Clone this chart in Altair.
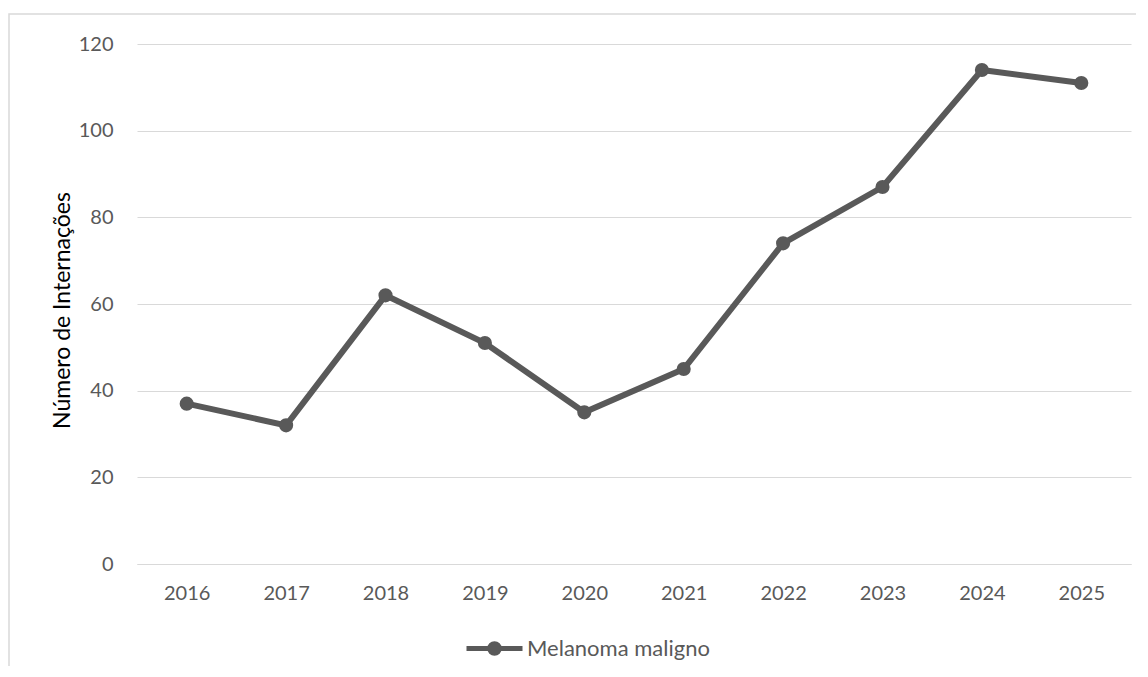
import altair as alt
import pandas as pd

years = ["2016", "2017", "2018", "2019", "2020", "2021", "2022", "2023", "2024", "2025"]
values = [37, 32, 62, 51, 35, 45, 74, 87, 114, 111]
series = ["Melanoma maligno"] * len(years)
y_ticks = [0, 20, 40, 60, 80, 100, 120]

df = pd.DataFrame({"ano": years, "valor": values, "serie": series})

FONT = "Lato"
GREY = "#595959"
GRID = "#d9d9d9"

frame = alt.Chart(pd.DataFrame({"k": [0]})).mark_rect(
    filled=False, stroke=GRID, strokeWidth=1.5, fillOpacity=0
).encode(
    x=alt.value(-128), x2=alt.value(1400), y=alt.value(-30), y2=alt.value(900)
)

legend_path = "M-1,0H1M-0.17,0A0.17,0.17,0,1,1,0.17,0A0.17,0.17,0,1,1,-0.17,0Z"

line = alt.Chart(df).mark_line(
    strokeWidth=6,
    point=alt.OverlayMarkDef(filled=True, size=200),
).encode(
    x=alt.X(
        "ano:O",
        sort=years,
        scale=alt.Scale(type="point", padding=0.5),
        axis=alt.Axis(
            title=None, labelAngle=0, grid=False, ticks=False, domain=True,
            domainColor=GRID, domainWidth=1, labelPadding=19,
            labelFont=FONT, labelFontSize=20, labelColor=GREY,
        ),
    ),
    y=alt.Y(
        "valor:Q",
        scale=alt.Scale(domain=[0, 120], nice=False),
        axis=alt.Axis(
            values=y_ticks, title="Número de Internações", grid=True, gridColor=GRID,
            gridWidth=1, domain=False, ticks=False, labelPadding=24,
            labelFont=FONT, labelFontSize=20, labelColor=GREY,
            titleFont=FONT, titleFontSize=23, titleColor="#000000", titleFontWeight="normal",
            titleAngle=-90, titleX=-75, titleY=266, titleAlign="center", titleBaseline="middle",
        ),
    ),
    color=alt.Color(
        "serie:N",
        scale=alt.Scale(range=[GREY]),
        legend=alt.Legend(
            title=None, orient="none", legendX=327, legendY=574,
            symbolType=legend_path, symbolSize=3136, symbolStrokeWidth=5,
            symbolFillColor=GREY, symbolStrokeColor=GREY,
            labelFont=FONT, labelFontSize=22, labelColor=GREY, labelOffset=2,
            labelLimit=0, padding=0,
        ),
    ),
)

chart = alt.layer(frame, line).properties(
    width=994,
    height=520,
    autosize=alt.AutoSizeParams(type="none"),
    padding={"left": 129, "top": 36, "right": 5, "bottom": 102},
    background="white",
).configure_view(stroke=None)

chart.save("out.html", embed_options={"renderer": "svg", "actions": False})
